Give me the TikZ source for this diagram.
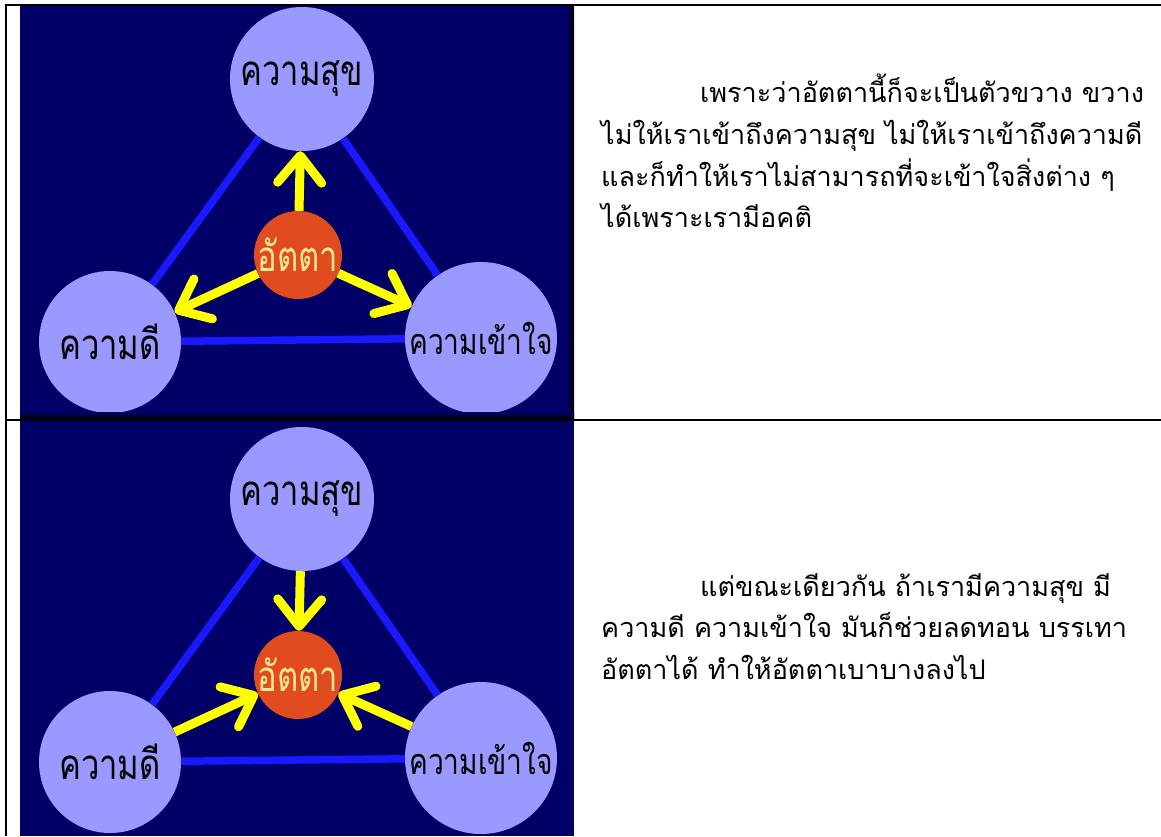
\documentclass[tikz,border=0pt]{standalone}
\usepackage{fontspec}
\newfontfamily\thaifont[Script=Thai]{Loma}
\usetikzlibrary{arrows.meta}
\definecolor{slidebg}{RGB}{0,0,102}
\definecolor{bubblefill}{RGB}{153,153,255}
\definecolor{sideblue}{RGB}{25,25,255}
\definecolor{egofill}{RGB}{224,76,30}
\definecolor{egotext}{RGB}{255,232,150}
\definecolor{pushyellow}{RGB}{255,255,0}
\newcommand\squeeze[1]{\makebox[0pt]{\scalebox{0.78}[1]{#1}}}

\begin{document}
\begin{tikzpicture}
    [ x=1pt, y=-1pt,
      bubble/.style={circle, fill=bubblefill, inner sep=0pt, text=black,
                     font=\thaifont\fontsize{42}{42}\selectfont},
      ego/.style={circle, fill=egofill, inner sep=0pt, minimum size=88pt,
                  text=egotext, font=\thaifont\fontsize{42}{42}\selectfont},
      side/.style={draw=sideblue, line width=7.5pt},
      push/.style={draw=pushyellow, line width=9pt,
                   -{Straight Barb[length=27pt,width=44pt,round]}},
      rule/.style={line width=2.5pt},
      body/.style={anchor=base west, inner sep=0pt,
                   font=\thaifont\fontsize{27}{27}\selectfont},
    ]
    \useasboundingbox (0,0) rectangle (1161,836);

    % the two slides
    \foreach \pan/\dy/\top/\bot in {a/0/6/418, b/420/421/836} {
        \fill[slidebg] (20,\top) rectangle (574,\bot);
        \begin{scope}
            \clip (20,\top) rectangle (574,\bot);
            \begin{scope}[shift={(0,\dy)}]
                \node[bubble, minimum size=144pt] (joy-\pan) at (302,79) {\squeeze{ความสุข}};
                \node[bubble, minimum size=142pt] (good-\pan) at (110,342) {\squeeze{ความดี}};
                \node[bubble, minimum size=152pt, font=\thaifont\fontsize{36}{36}\selectfont]
                    (know-\pan) at (481,338) {\squeeze{ความเข้าใจ}};
                \node[ego] (ego-\pan) at (298,255) {\squeeze{อัตตา}};
            \end{scope}
        \end{scope}
        \draw[side] (joy-\pan) -- (good-\pan);
        \draw[side] (good-\pan) -- (know-\pan);
        \draw[side] (know-\pan) -- (joy-\pan);
    }
    % shadow on the upper slide
    \shade[left color=slidebg, right color=black] (566,6) rectangle (574,418);
    \shade[top color=slidebg, bottom color=black] (20,412) rectangle (574,419);

    % upper slide: ego blocks the way out
    \draw[push] (ego-a) -- (joy-a);
    \draw[push] (ego-a) -- (good-a);
    \draw[push] (ego-a) -- (know-a);
    % lower slide: the three wear ego down
    \draw[push] (joy-b) -- (ego-b);
    \draw[push] (good-b) -- (ego-b);
    \draw[push] (know-b) -- (ego-b);

    % table rules
    \draw[rule] (6,4) -- (6,836);
    \draw[rule] (5,5) -- (1161,5);
    \draw[rule] (5,420) -- (1161,420);

    % text column
    \node[body] (ta1) at (700,102) {เพราะว่าอัตตานี้ก็จะเป็นตัวขวาง ขวาง};
    \node[body] (ta2) at (601,144) {ไม่ให้เราเข้าถึงความสุข ไม่ให้เราเข้าถึงความดี};
    \node[body] (ta3) at (601,186) {และก็ทำให้เราไม่สามารถที่จะเข้าใจสิ่งต่าง ๆ};
    \node[body] (ta4) at (601,227) {ได้เพราะเรามีอคติ};

    \node[body] (tb1) at (700,596) {แต่ขณะเดียวกัน ถ้าเรามีความสุข มี};
    \node[body] (tb2) at (601,637) {ความดี ความเข้าใจ มันก็ช่วยลดทอน บรรเทา};
    \node[body] (tb3) at (601,679) {อัตตาได้ ทำให้อัตตาเบาบางลงไป};
\end{tikzpicture}
\end{document}
